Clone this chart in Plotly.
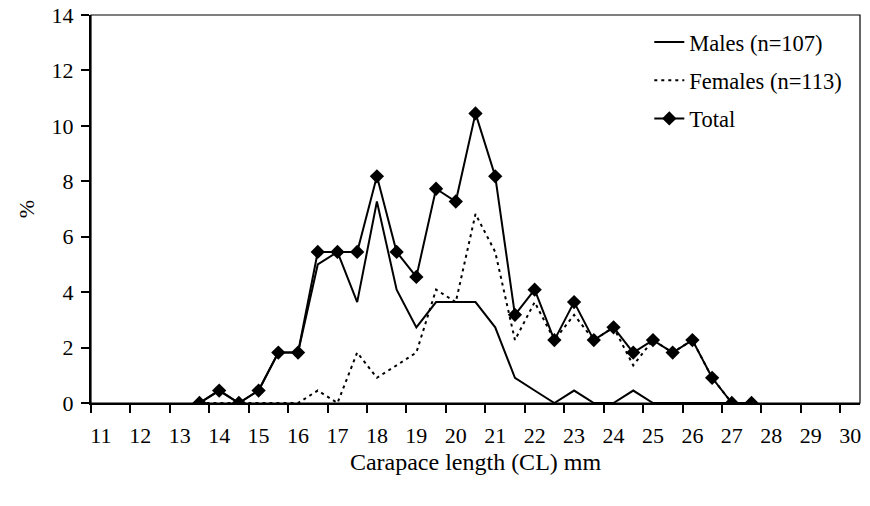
import plotly.graph_objects as go

# Carapace length classes (mm)
lengths = [13.5, 14, 14.5, 15, 15.5, 16, 16.5, 17, 17.5, 18, 18.5, 19, 19.5, 20,
           20.5, 21, 21.5, 22, 22.5, 23, 23.5, 24, 24.5, 25, 25.5, 26, 26.5, 27, 27.5]
# Percent of all 220 individuals
males = [0, 0.45, 0, 0.45, 1.82, 1.82, 5.00, 5.45, 3.64, 7.27, 4.09, 2.73, 3.64, 3.64,
         3.64, 2.73, 0.91, 0.45, 0, 0.45, 0, 0, 0.45, 0, 0, 0, 0, 0, 0]
females = [0, 0, 0, 0, 0, 0, 0.45, 0, 1.82, 0.91, 1.36, 1.82, 4.09, 3.64,
           6.82, 5.45, 2.27, 3.64, 2.27, 3.18, 2.27, 2.73, 1.36, 2.27, 1.82, 2.27, 0.91, 0, 0]
total = [0, 0.45, 0, 0.45, 1.82, 1.82, 5.45, 5.45, 5.45, 8.18, 5.45, 4.55, 7.73, 7.27,
         10.45, 8.18, 3.18, 4.09, 2.27, 3.64, 2.27, 2.73, 1.82, 2.27, 1.82, 2.27, 0.91, 0, 0]

x_labels = list(range(11, 31))
x_tick_marks = [v - 0.25 for v in x_labels]
y_ticks = list(range(0, 15, 2))

FONT = "Liberation Serif, Times New Roman, serif"

fig = go.Figure()
fig.add_trace(go.Scatter(x=lengths, y=males, mode="lines", name="Males (n=107)",
                         line=dict(color="black", width=2), legendgroup="m"))
fig.add_trace(go.Scatter(x=lengths, y=females, mode="lines", name="Females (n=113)",
                         line=dict(color="black", width=2, dash="3px,4px"), legendgroup="f"))
fig.add_trace(go.Scatter(x=lengths, y=total, mode="lines+markers", name="Total",
                         line=dict(color="black", width=2),
                         marker=dict(symbol="diamond", size=11, color="black"),
                         legendgroup="t"))

fig.update_layout(
    width=870, height=506,
    margin=dict(l=91, r=10, t=15, b=103, autoexpand=False),
    paper_bgcolor="white", plot_bgcolor="white",
    font=dict(family=FONT, size=22, color="black"),
    showlegend=True,
    legend=dict(x=0.726, y=0.985, xanchor="left", yanchor="top",
                bgcolor="rgba(0,0,0,0)", tracegroupgap=6, traceorder="grouped",
                font=dict(family=FONT, size=22.5, color="black")),
    xaxis=dict(range=[10.75, 30.25], tickmode="array", tickvals=x_labels,
               ticktext=[str(v) for v in x_labels], ticks="", showgrid=False,
               zeroline=False, showline=True, linecolor="black", linewidth=2,
               ticklabelstandoff=12, ticklabeloverflow="allow", automargin=False,
               tickfont=dict(family=FONT, size=22),
               minor=dict(tickmode="array", tickvals=x_tick_marks, ticks="outside",
                          ticklen=8, tickwidth=1.5, tickcolor="black", showgrid=False),
               title=dict(text="Carapace length (CL) mm", standoff=6,
                          font=dict(family=FONT, size=24))),
    yaxis=dict(range=[0, 14], tickmode="array", tickvals=y_ticks, ticks="outside",
               ticklen=8, tickwidth=1.5, tickcolor="black", showgrid=False,
               zeroline=False, showline=True, linecolor="black", linewidth=2,
               ticklabelstandoff=3, ticklabeloverflow="allow",
               automargin=False, tickfont=dict(family=FONT, size=22),
               title=dict(text="%", standoff=11, font=dict(family=FONT, size=22))),
    shapes=[dict(type="rect", xref="paper", yref="paper", x0=0, y0=0, x1=1, y1=1,
                 line=dict(color="black", width=1.2), fillcolor="rgba(0,0,0,0)",
                 layer="above")],
)

# remove the browser's default 8px page margin so the figure fills the window
fig.write_html("out.html", config={"displayModeBar": False},
               post_script="document.body.style.margin='0';document.body.style.overflow='hidden';")
